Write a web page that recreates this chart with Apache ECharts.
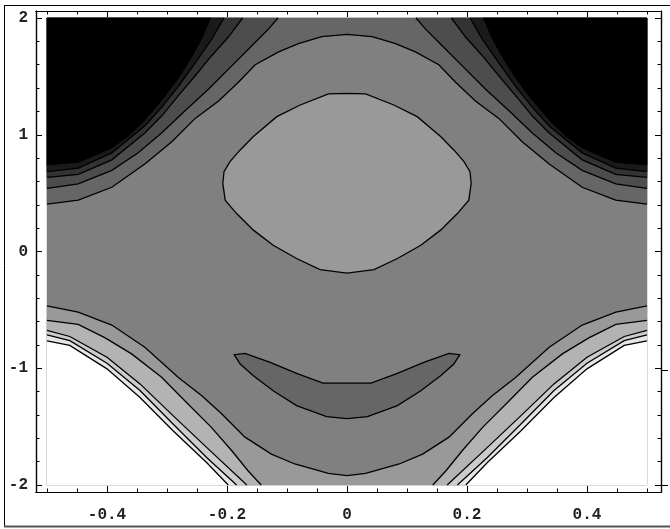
<!DOCTYPE html>
<html><head><meta charset="utf-8">
<script src="https://cdn.jsdelivr.net/npm/echarts@6/dist/echarts.min.js"></script>
<style>html,body{margin:0;padding:0;background:#fff}#c{width:670px;height:529px}</style>
</head><body><div id="c"></div>
<script>
// plot range and ticks
const xRange = [-0.5, 0.5];
const yRange = [-2, 2];
const xMajorTicks = [-0.4, -0.2, 0, 0.2, 0.4];
const xMinorTicks = [-0.5, -0.45, -0.35, -0.3, -0.25, -0.15, -0.1, -0.05, 0.05, 0.1, 0.15, 0.25, 0.3, 0.35, 0.45, 0.5];
const yMajorTicks = [-2, -1, 0, 1, 2];
const yMinorTicks = [-1.8, -1.6, -1.4, -1.2, -0.8, -0.6, -0.4, -0.2, 0.2, 0.4, 0.6, 0.8, 1.2, 1.4, 1.6, 1.8];
// gray levels (low = dark)
const levelGrays = ['#000000', '#1a1a1a', '#333333', '#4d4d4d', '#666666', '#808080', '#999999', '#b3b3b3', '#cccccc', '#e6e6e6', '#ffffff'];

// contour lines, left half (right half is the mirror image)
const line1 = [[-0.5,0.745],[-0.448,0.765],[-0.392,0.89],[-0.365,0.99],[-0.337,1.13],[-0.309,1.30],[-0.281,1.49],[-0.259,1.67],[-0.242,1.83],[-0.228,2.0]];
const line2 = [[-0.5,0.685],[-0.448,0.715],[-0.392,0.845],[-0.337,1.075],[-0.309,1.235],[-0.281,1.415],[-0.253,1.615],[-0.226,1.815],[-0.205,2.0]];
const line3 = [[-0.5,0.635],[-0.448,0.66],[-0.392,0.785],[-0.337,1.015],[-0.309,1.16],[-0.281,1.335],[-0.253,1.505],[-0.226,1.675],[-0.198,1.835],[-0.174,2.0]];
const line4 = [[-0.5,0.54],[-0.448,0.58],[-0.392,0.695],[-0.348,0.845],[-0.309,1.015],[-0.27,1.205],[-0.231,1.39],[-0.192,1.59],[-0.159,1.76],[-0.131,1.905],[-0.115,2.0]];
const line5 = [[-0.5,0.405],[-0.448,0.44],[-0.392,0.55],[-0.337,0.75],[-0.292,0.94],[-0.253,1.14],[-0.214,1.29],[-0.181,1.45],[-0.153,1.60],[-0.114,1.71],[-0.081,1.78],[-0.042,1.84],[0,1.86]];
const line6 = [[-0.5,-0.465],[-0.448,-0.52],[-0.392,-0.63],[-0.337,-0.82],[-0.281,-1.08],[-0.242,-1.235],[-0.209,-1.39],[-0.17,-1.59],[-0.126,-1.735],[-0.087,-1.82],[-0.031,-1.90],[0,-1.92]];
const line7 = [[-0.5,-0.59],[-0.448,-0.625],[-0.403,-0.74],[-0.359,-0.877],[-0.309,-1.077],[-0.265,-1.306],[-0.226,-1.506],[-0.192,-1.707],[-0.165,-1.878],[-0.143,-2.0]];
const line8 = [[-0.5,-0.675],[-0.462,-0.728],[-0.40,-0.906],[-0.345,-1.134],[-0.29,-1.406],[-0.234,-1.678],[-0.167,-2.0]];
const line9 = [[-0.5,-0.715],[-0.462,-0.763],[-0.40,-0.957],[-0.345,-1.19],[-0.29,-1.478],[-0.234,-1.764],[-0.184,-2.0]];
const line10 = [[-0.5,-0.765],[-0.462,-0.805],[-0.40,-1.005],[-0.345,-1.25],[-0.29,-1.535],[-0.234,-1.807],[-0.198,-2.0]];
const blobLeft = [[0,1.355],[-0.031,1.35],[-0.078,1.255],[-0.117,1.155],[-0.156,0.985],[-0.178,0.87],[-0.195,0.77],[-0.205,0.683],[-0.207,0.583],[-0.203,0.44],[-0.184,0.325],[-0.156,0.183],[-0.123,0.053],[-0.084,-0.06],[-0.045,-0.155],[0,-0.185]];
const crescentLeft = [[0,-1.127],[-0.040,-1.127],[-0.084,-1.044],[-0.128,-0.95],[-0.170,-0.872],[-0.188,-0.884],[-0.178,-0.964],[-0.156,-1.064],[-0.123,-1.193],[-0.084,-1.32],[-0.034,-1.415],[0,-1.432]];

const mirror = pts => pts.map(p => [-p[0], p[1]]);
const fullAcross = left => left.concat(mirror(left).reverse().slice(1));
const closedShape = left => left.concat(mirror(left).reverse().slice(1, -1));

const xL = xRange[0], xR = xRange[1], yB = yRange[0], yT = yRange[1];
const regions = [];
const strokes = [];
regions.push({ pts: [[xL,yB],[xR,yB],[xR,yT],[xL,yT]], color: levelGrays[5] });
// top
const full5 = fullAcross(line5);
regions.push({ pts: full5.concat([[xR,yT],[xL,yT]]), color: levelGrays[4] });
strokes.push(full5);
[[line4,3],[line3,2],[line2,1],[line1,0]].forEach(([ln, lv]) => {
  regions.push({ pts: ln.concat([[xL,yT]]), color: levelGrays[lv] });
  regions.push({ pts: mirror(ln).concat([[xR,yT]]), color: levelGrays[lv] });
  strokes.push(ln, mirror(ln));
});
// bottom
const full6 = fullAcross(line6);
regions.push({ pts: full6.concat([[xR,yB],[xL,yB]]), color: levelGrays[6] });
strokes.push(full6);
[[line7,7],[line8,8],[line9,9],[line10,10]].forEach(([ln, lv]) => {
  regions.push({ pts: ln.concat([[xL,yB]]), color: levelGrays[lv] });
  regions.push({ pts: mirror(ln).concat([[xR,yB]]), color: levelGrays[lv] });
  strokes.push(ln, mirror(ln));
});
// blob and crescent
const blob = closedShape(blobLeft);
regions.push({ pts: blob, color: levelGrays[6] });
strokes.push(blob.concat([blob[0]]));
const cres = closedShape(crescentLeft);
regions.push({ pts: cres, color: levelGrays[4] });
strokes.push(cres.concat([cres[0]]));

// frame extents (axis range slightly wider than plot range)
const frameX = [-0.518333, 0.523333];
const frameY = [-2.06, 2.06];
const font = 'Liberation Mono';
const fmt = v => (Math.abs(v) < 1e-9 ? '0' : (Number.isInteger(v) ? String(v) : v.toFixed(1)));

function xAxisDef(pos, ticks, len, labels) {
  return {
    type: 'value', position: pos, min: frameX[0], max: frameX[1],
    axisLine: { show: true, onZero: false, lineStyle: { color: '#000', width: 1.2 } },
    axisTick: { show: true, inside: true, length: len, customValues: ticks, lineStyle: { color: '#000', width: 1 } },
    axisLabel: labels ? { show: true, customValues: ticks, formatter: fmt, fontFamily: font, fontWeight: 'bold', fontSize: 16, color: '#222', margin: 15 } : { show: false },
    splitLine: { show: false }
  };
}
function yAxisDef(pos, ticks, len, labels) {
  return {
    type: 'value', position: pos, min: frameY[0], max: frameY[1],
    axisLine: { show: true, onZero: false, lineStyle: { color: '#000', width: 1.2 } },
    axisTick: { show: true, inside: true, length: len, customValues: ticks, lineStyle: { color: '#000', width: 1 } },
    axisLabel: labels ? { show: true, customValues: ticks, formatter: fmt, fontFamily: font, fontWeight: 'bold', fontSize: 16, color: '#222', margin: 8 } : { show: false },
    splitLine: { show: false }
  };
}

const chart = echarts.init(document.getElementById('c'), null, { renderer: 'canvas' });
chart.setOption({
  animation: false,
  backgroundColor: '#fff',
  grid: { left: 36, right: 9, top: 11, bottom: 37, containLabel: false },
  xAxis: [
    xAxisDef('bottom', xMajorTicks, 6, true),
    xAxisDef('bottom', xMinorTicks, 3.5, false),
    xAxisDef('top', xMajorTicks, 6, false),
    xAxisDef('top', xMinorTicks, 3.5, false)
  ],
  yAxis: [
    yAxisDef('left', yMajorTicks, 6, true),
    yAxisDef('left', yMinorTicks, 3.5, false),
    yAxisDef('right', yMajorTicks, 6, false),
    yAxisDef('right', yMinorTicks, 3.5, false)
  ],
  graphic: [
    { type: 'line', silent: true, shape: { x1: 4.5, y1: 5, x2: 4.5, y2: 526 }, style: { stroke: '#000', lineWidth: 1 } },
    { type: 'line', silent: true, shape: { x1: 4, y1: 5.5, x2: 670, y2: 5.5 }, style: { stroke: '#000', lineWidth: 1 } },
    { type: 'line', silent: true, shape: { x1: 4, y1: 526.5, x2: 670, y2: 526.5 }, style: { stroke: '#555', lineWidth: 2 } },
    { type: 'line', silent: true, shape: { x1: 662, y1: 370.5, x2: 668, y2: 370.5 }, style: { stroke: '#000', lineWidth: 1 } },
    { type: 'line', silent: true, shape: { x1: 662, y1: 485.5, x2: 668, y2: 485.5 }, style: { stroke: '#000', lineWidth: 1 } }
  ],
  series: [
    {
      type: 'custom', xAxisIndex: 0, yAxisIndex: 0, clip: false, silent: true, z: 1,
      data: regions.map((r, i) => [0, 0, i]),
      renderItem: (params, api) => {
        const r = regions[params.dataIndex];
        return { type: 'polygon', shape: { points: r.pts.map(p => api.coord(p)) }, style: { fill: r.color, stroke: r.color, lineWidth: 0.5 } };
      }
    },
    {
      type: 'custom', xAxisIndex: 0, yAxisIndex: 0, clip: false, silent: true, z: 2,
      data: strokes.map((s, i) => [0, 0, i]),
      renderItem: (params, api) => {
        const s = strokes[params.dataIndex];
        return { type: 'polyline', shape: { points: s.map(p => api.coord(p)) }, style: { stroke: '#000', lineWidth: 1.3, fill: null } };
      }
    }
  ]
});
</script>
</body></html>
